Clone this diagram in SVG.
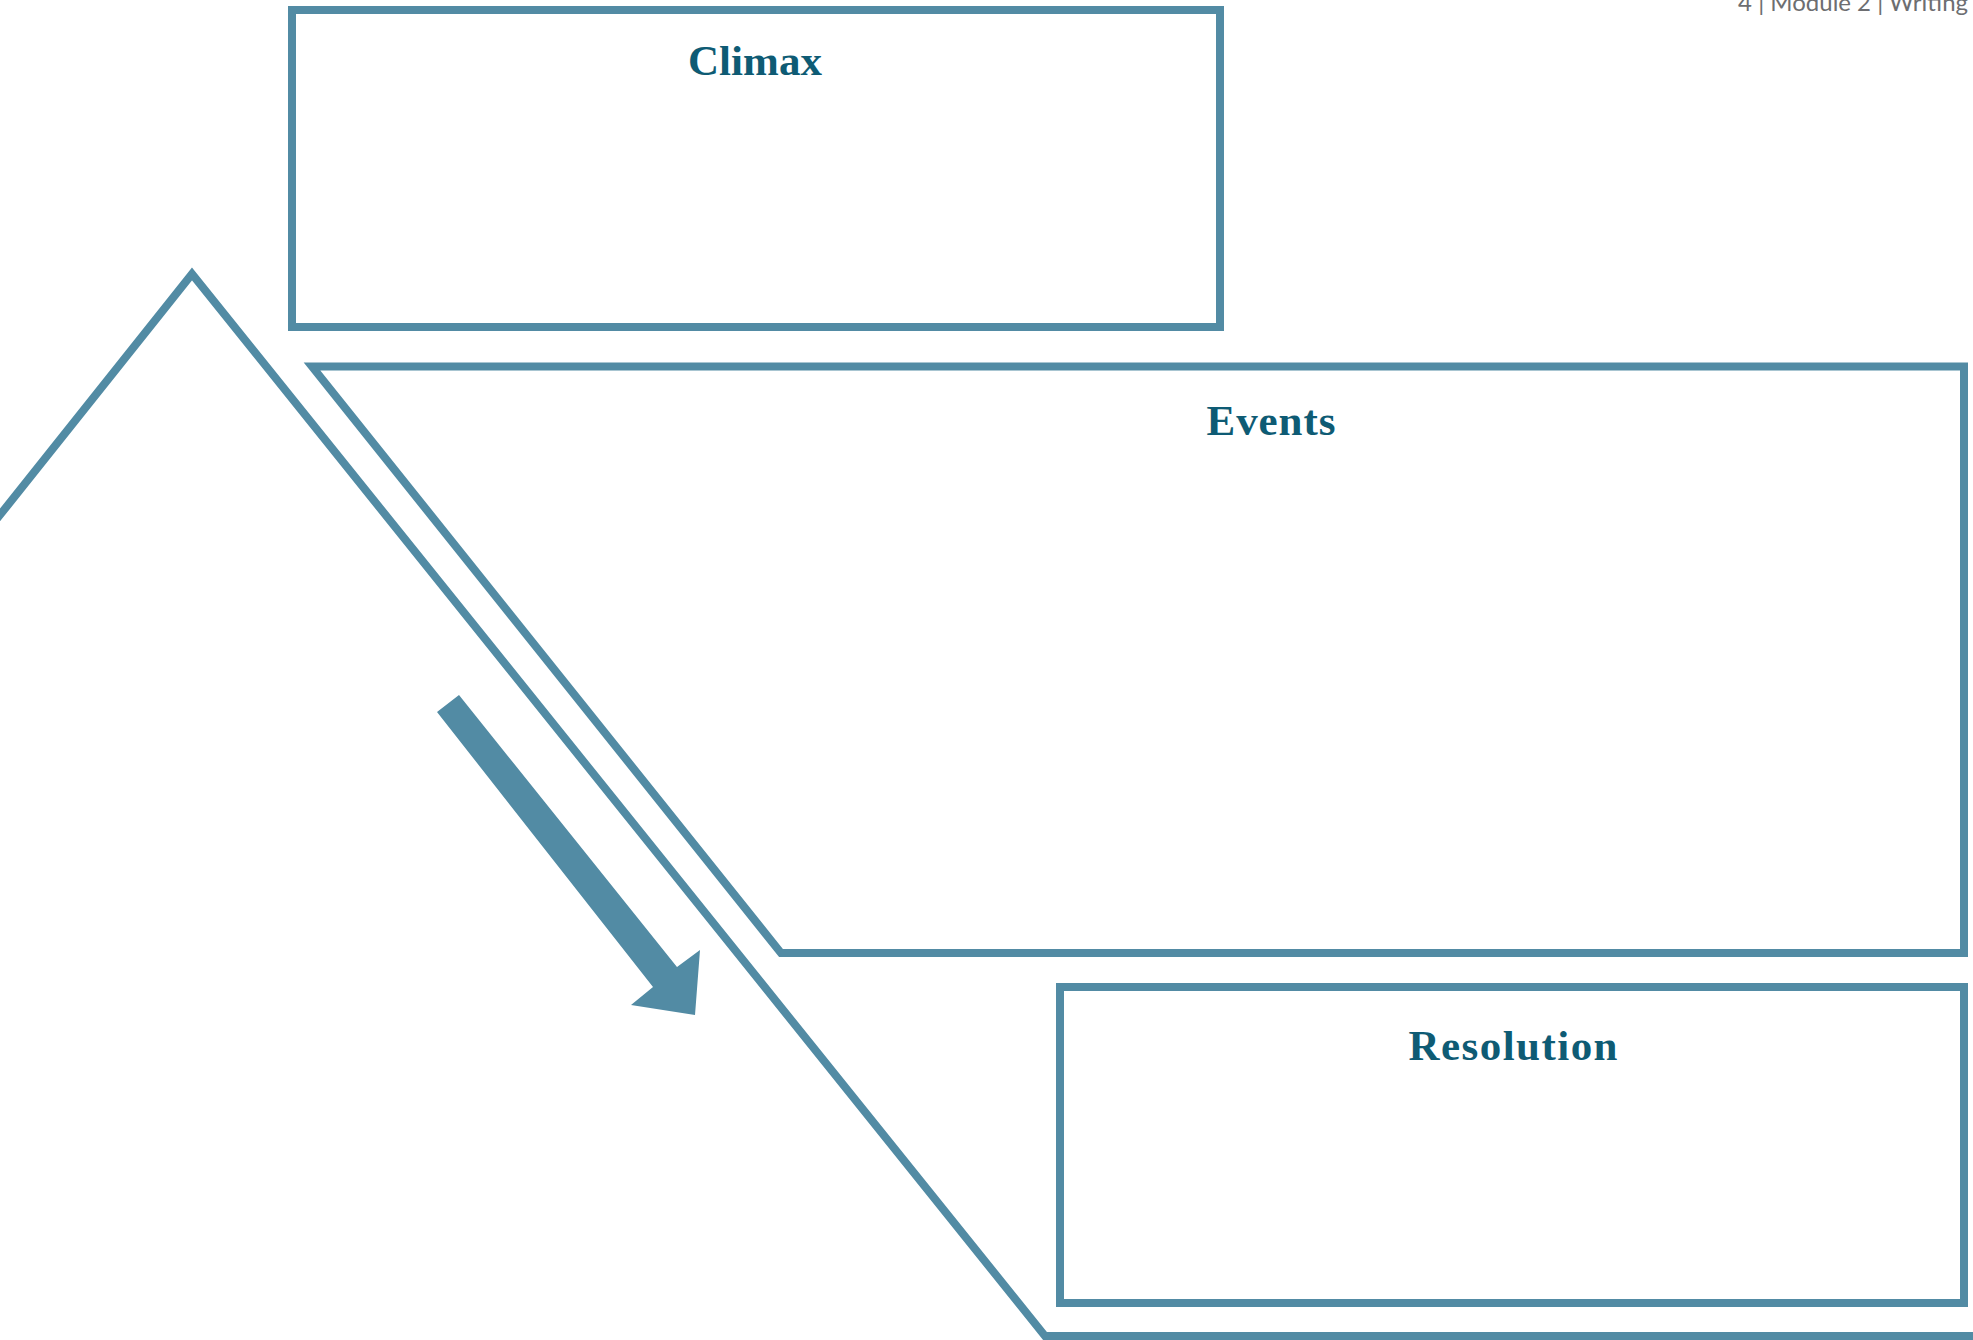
<svg xmlns="http://www.w3.org/2000/svg" width="1973" height="1340" viewBox="0 0 1973 1340">
  <style>
    .ln { fill: none; stroke: #528ba4; stroke-width: 8; stroke-linejoin: miter; stroke-miterlimit: 10; }
    .title { font-family: "Liberation Serif", "Times New Roman", serif; font-weight: bold; font-size: 43px; fill: #0e5b74; text-anchor: middle; }
    .hdr { font-family: Lato, "Liberation Sans", sans-serif; font-size: 24px; fill: #6d6e71; text-anchor: end; }
  </style>
  <rect width="1973" height="1340" fill="#ffffff"/>
  <text class="hdr" x="1968" y="11">4 | Module 2 | Writing</text>
  <g id="connectors">
    <polyline id="mountain" class="ln" points="-10,527.5 192,274 1045,1336 1980,1336"/>
    <polygon id="arrow" fill="#528ba4" points="459,695 437,712 653,987 631,1005 695,1015 700,950 677,967"/>
  </g>
  <g id="climax">
    <rect class="ln" x="292" y="10" width="928" height="317"/>
    <text class="title" x="755" y="75" textLength="134">Climax</text>
  </g>
  <g id="events">
    <polygon class="ln" points="312,366.5 1964,366.5 1964,953 781,953"/>
    <text class="title" x="1271" y="435" textLength="129">Events</text>
  </g>
  <g id="resolution">
    <rect class="ln" x="1060" y="987" width="904" height="316"/>
    <text class="title" x="1513" y="1060" textLength="209">Resolution</text>
  </g>
</svg>
